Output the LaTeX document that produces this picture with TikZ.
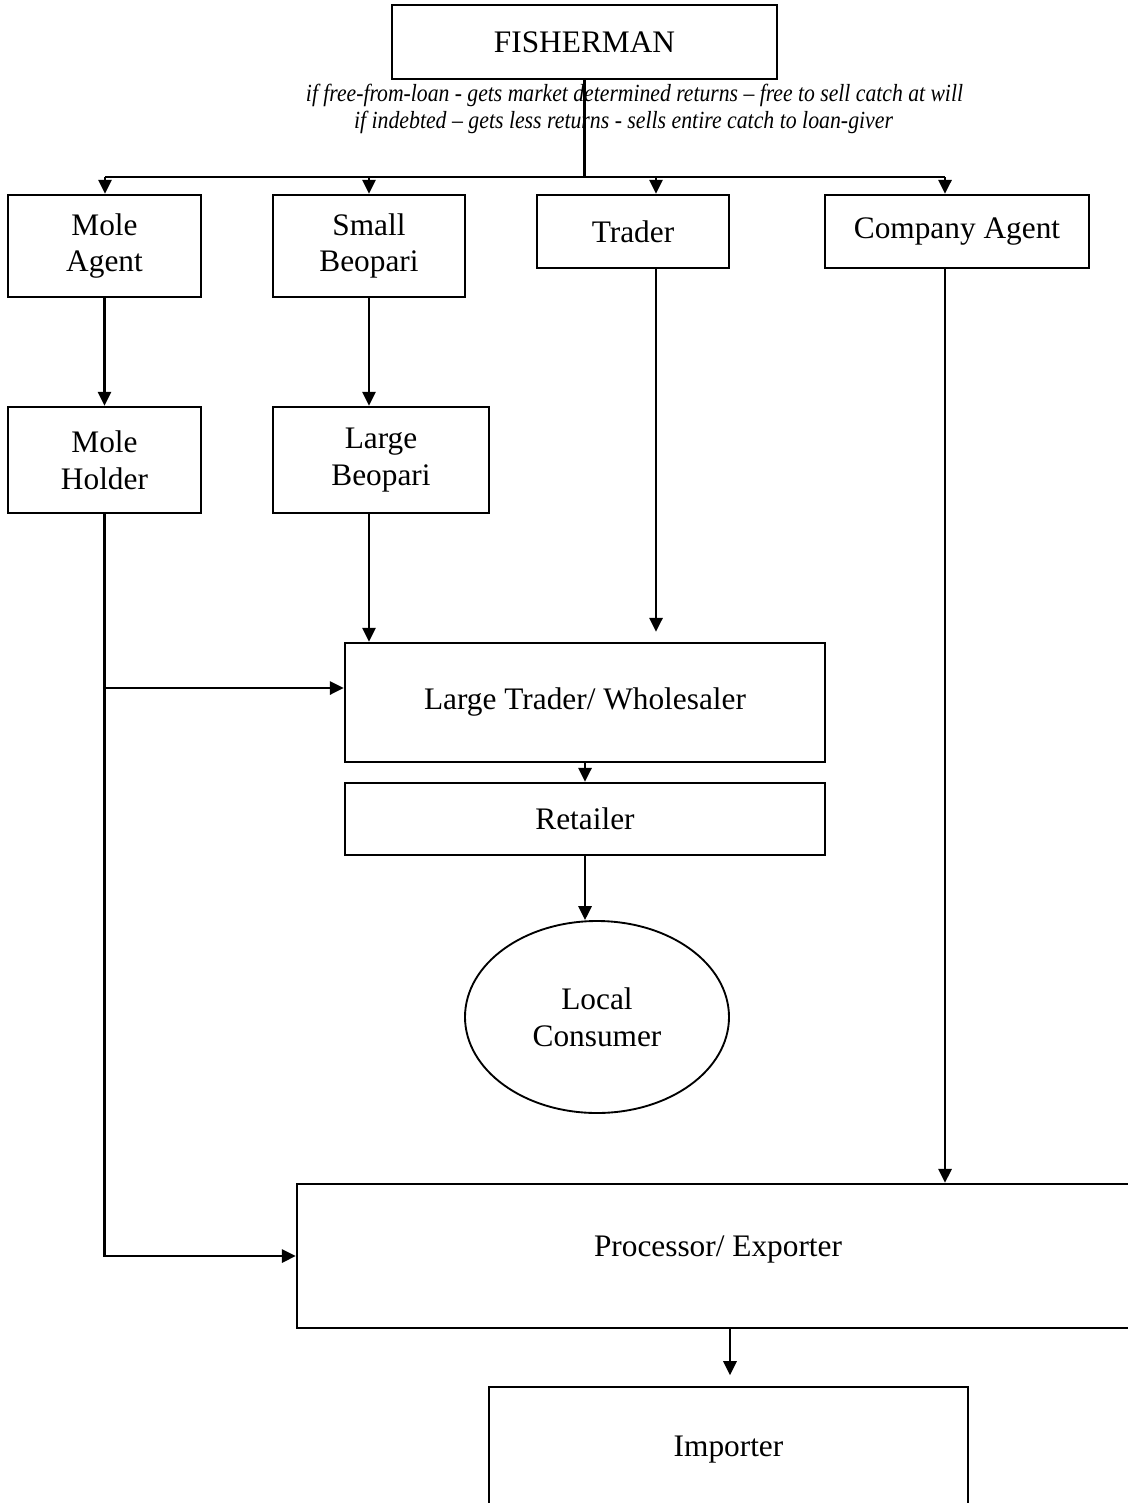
\documentclass[tikz,border=0pt]{standalone}
\usepackage{fontspec}
\usepackage{graphicx}
\setmainfont{Liberation Serif}
\usetikzlibrary{arrows.meta,shapes.geometric}
\newdimen\px \px=0.75pt
\tikzset{
  box/.style={draw, line width=1.8pt, rectangle, inner sep=0pt, align=center,
    font=\fontsize{23.5pt}{27.5pt}\selectfont},
  oval/.style={draw, line width=1.4pt, ellipse, inner sep=0pt, align=center,
    font=\fontsize{23.5pt}{27.5pt}\selectfont},
  conn/.style={line width=1.6pt},
  arr/.style={conn, -{Triangle[length=10.5pt,width=10pt]}},
  note/.style={inner sep=0pt, font=\fontsize{18.5pt}{20pt}\selectfont\itshape},
}
\begin{document}
\begin{tikzpicture}[x=0.75pt,y=-0.75pt]
\clip (0,0) rectangle (1128,1503);
% nodes
\node[box, minimum width=385\px, minimum height=74\px] (fish) at (584.5,42) {FISHERMAN};
\node[note] (note1) at (634.5,95) {\resizebox{657\px}{\height}{if free-from-loan - gets market determined returns – free to sell catch at will}};
\node[note] (note2) at (623.5,122) {\resizebox{539\px}{\height}{if indebted – gets less returns - sells entire catch to loan-giver}};

\node[box, minimum width=193\px, minimum height=102\px] (magent) at (104.5,246) {Mole\\Agent};
\node[box, minimum width=192\px, minimum height=102\px] (smallb) at (369,246) {Small\\Beopari};
\node[box, minimum width=192\px, minimum height=73\px] (trader) at (633,231.5) {Trader};
\node[box, minimum width=264\px, minimum height=73\px] (compag) at (957,231.5) {Company Agent};

\node[box, minimum width=193\px, minimum height=106\px] (mholder) at (104.5,460) {Mole\\Holder};
\node[box, minimum width=216\px, minimum height=106\px] (largeb) at (381,460) {Large\\Beopari};

\node[box, minimum width=480\px, minimum height=119\px] (ltw) at (585,702.5) {Large Trader/ Wholesaler};
\node[box, minimum width=480\px, minimum height=72\px] (retail) at (585,819) {Retailer};
\node[oval, minimum width=264\px, minimum height=192\px] (consumer) at (597,1017) {Local\\Consumer};

\node[box, minimum width=842\px, minimum height=144\px, text depth=19\px] (proc) at (718,1256) {Processor/ Exporter};
\node[box, minimum width=479\px, minimum height=126\px] (importer) at (728.5,1450) {Importer};

% coordinates for connectors
\coordinate (barL) at (105,177);
\coordinate (barR) at (945,177);
\coordinate (tx) at (656,177);
\coordinate (mh) at (105,688);
\coordinate (impx) at (730,1300);

% connectors
\draw[conn] (fish.south) -- (fish.south |- barL);
\draw[conn] (barL) -- (barR);
\draw[arr] (barL) -- (barL |- magent.north);
\draw[arr] (smallb.north |- barL) -- (smallb.north);
\draw[arr] (tx) -- (tx |- trader.north);
\draw[arr] (barR) -- (barR |- compag.north);

\draw[arr] (magent.south) -- (magent.south |- mholder.north);
\draw[arr] (smallb.south) -- (smallb.south |- largeb.north);
\draw[arr] (smallb.south |- largeb.south) -- (smallb.south |- ltw.north);
\draw[arr, shorten >=7.5pt] (tx |- trader.south) -- (tx |- ltw.north);

\draw[arr] (mholder.south) |- (proc.west);
\draw[arr] (mh) -- (mh -| ltw.west);

\draw[arr] (ltw.south) -- (retail.north);
\draw[arr] (retail.south) -- (retail.south |- consumer.north);

\draw[arr] (barR |- compag.south) -- (barR |- proc.north);
\draw[arr, shorten >=8pt] (impx |- proc.south) -- (impx |- importer.north);
\end{tikzpicture}
\end{document}
